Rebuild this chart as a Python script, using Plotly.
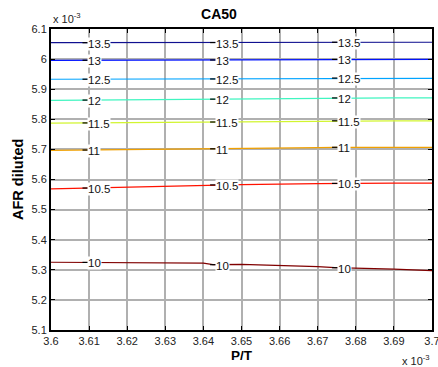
import numpy as np
import plotly.graph_objects as go

# Data (AFR diluted in units of 1e-3, P/T in units of 1e-3)
x_knots = [3.600, 3.620, 3.640, 3.6425, 3.650, 3.670, 3.6745, 3.690, 3.700]
levels = [10, 10.5, 11, 11.5, 12, 12.5, 13, 13.5]
level_y = {
    13.5: [6.0545, 6.0545, 6.0548, 6.0550, 6.0555, 6.056, 6.056, 6.056, 6.056],
    13:   [5.996, 5.9965, 5.997, 5.997, 5.998, 5.999, 5.999, 5.999, 5.999],
    12.5: [5.933, 5.9335, 5.934, 5.934, 5.935, 5.936, 5.937, 5.937, 5.936],
    12:   [5.863, 5.865, 5.867, 5.867, 5.868, 5.870, 5.871, 5.871, 5.871],
    11.5: [5.787, 5.789, 5.791, 5.791, 5.792, 5.794, 5.795, 5.795, 5.795],
    11:   [5.697, 5.699, 5.701, 5.702, 5.703, 5.706, 5.707, 5.707, 5.707],
    10.5: [5.569, 5.575, 5.581, 5.582, 5.583, 5.586, 5.587, 5.588, 5.588],
    10:   [5.325, 5.324, 5.322, 5.317, 5.318, 5.3105, 5.307, 5.302, 5.297],
}
colors = {
    10: "#800000", 10.5: "#ff1200", 11: "#f0a000", 11.5: "#d2f530",
    12: "#40f5c0", 12.5: "#00a4ff", 13: "#0012ff", 13.5: "#101090",
}
label_x = [3.609, 3.6425, 3.6745]
x_ticks = [3.60, 3.61, 3.62, 3.63, 3.64, 3.65, 3.66, 3.67, 3.68, 3.69, 3.70]
x_ticktext = ["3.6", "3.61", "3.62", "3.63", "3.64", "3.65", "3.66", "3.67", "3.68", "3.69", "3.7"]
y_ticks = [5.1, 5.2, 5.3, 5.4, 5.5, 5.6, 5.7, 5.8, 5.9, 6.0, 6.1]
y_ticktext = ["5.1", "5.2", "5.3", "5.4", "5.5", "5.6", "5.7", "5.8", "5.9", "6", "6.1"]

FONT = "Liberation Sans, Arial"
fig = go.Figure()
annotations = []
mx, my = [], []
for lv in levels:
    ys = level_y[lv]
    fig.add_trace(go.Scatter(x=x_knots, y=ys, mode="lines",
                             line=dict(color=colors[lv], width=1.2),
                             showlegend=False, hoverinfo="skip"))
    for lx in label_x:
        ly = float(np.interp(lx, x_knots, ys))
        mx.append(lx)
        my.append(ly)
        annotations.append(dict(x=lx, y=ly, xref="x", yref="y", text=f"{lv:g}",
                                showarrow=False, xanchor="left", yanchor="middle",
                                xshift=2, yshift=-1, bgcolor="white", borderpad=0,
                                font=dict(family=FONT, size=11.5, color="#111")))

fig.add_trace(go.Scatter(x=mx, y=my, mode="markers",
                         marker=dict(symbol="line-ew", size=4, line=dict(color="black", width=1.2)),
                         showlegend=False, hoverinfo="skip"))

annotations += [
    dict(x=0, y=1, xref="paper", yref="paper", text="x 10<sup>-3</sup>", showarrow=False,
         xanchor="left", yanchor="bottom", yshift=2,
         font=dict(family=FONT, size=11, color="#222")),
    dict(x=1, y=-0.1, xref="paper", yref="paper", text="x 10<sup>-3</sup>", showarrow=False,
         xanchor="right", yanchor="middle",
         font=dict(family=FONT, size=11, color="#222")),
    dict(x=0.5, y=-0.086, xref="paper", yref="paper", text="<b>P/T</b>", showarrow=False,
         xanchor="center", yanchor="middle",
         font=dict(family=FONT, size=13.5, color="black")),
    dict(x=-0.088, y=0.5, xref="paper", yref="paper", text="<b>AFR diluted</b>", showarrow=False,
         xanchor="center", yanchor="middle", textangle=-90,
         font=dict(family=FONT, size=14.5, color="black")),
]

axis_common = dict(showline=True, linecolor="black", linewidth=2, mirror="ticks",
                   ticks="inside", ticklen=4, tickcolor="black", tickwidth=1,
                   showgrid=True, gridcolor="#b0b0b0", gridwidth=1.5, zeroline=False,
                   automargin=False, ticklabeloverflow="allow",
                   tickfont=dict(family=FONT, size=11, color="#222"))

fig.update_layout(
    width=438, height=367,
    margin=dict(l=51, r=6, t=29, b=37),
    paper_bgcolor="white", plot_bgcolor="white",
    title=dict(text="<b>CA50</b>", x=0.5, xanchor="center", y=0.962, yanchor="middle",
               font=dict(family=FONT, size=14, color="black")),
    xaxis=dict(range=[3.6, 3.7], tickvals=x_ticks, ticktext=x_ticktext, **axis_common),
    yaxis=dict(range=[5.1, 6.1], tickvals=y_ticks, ticktext=y_ticktext, **axis_common),
    annotations=annotations,
)

fig.write_html("out.html", config={"displayModeBar": False},
               post_script="document.body.style.margin='0';")
